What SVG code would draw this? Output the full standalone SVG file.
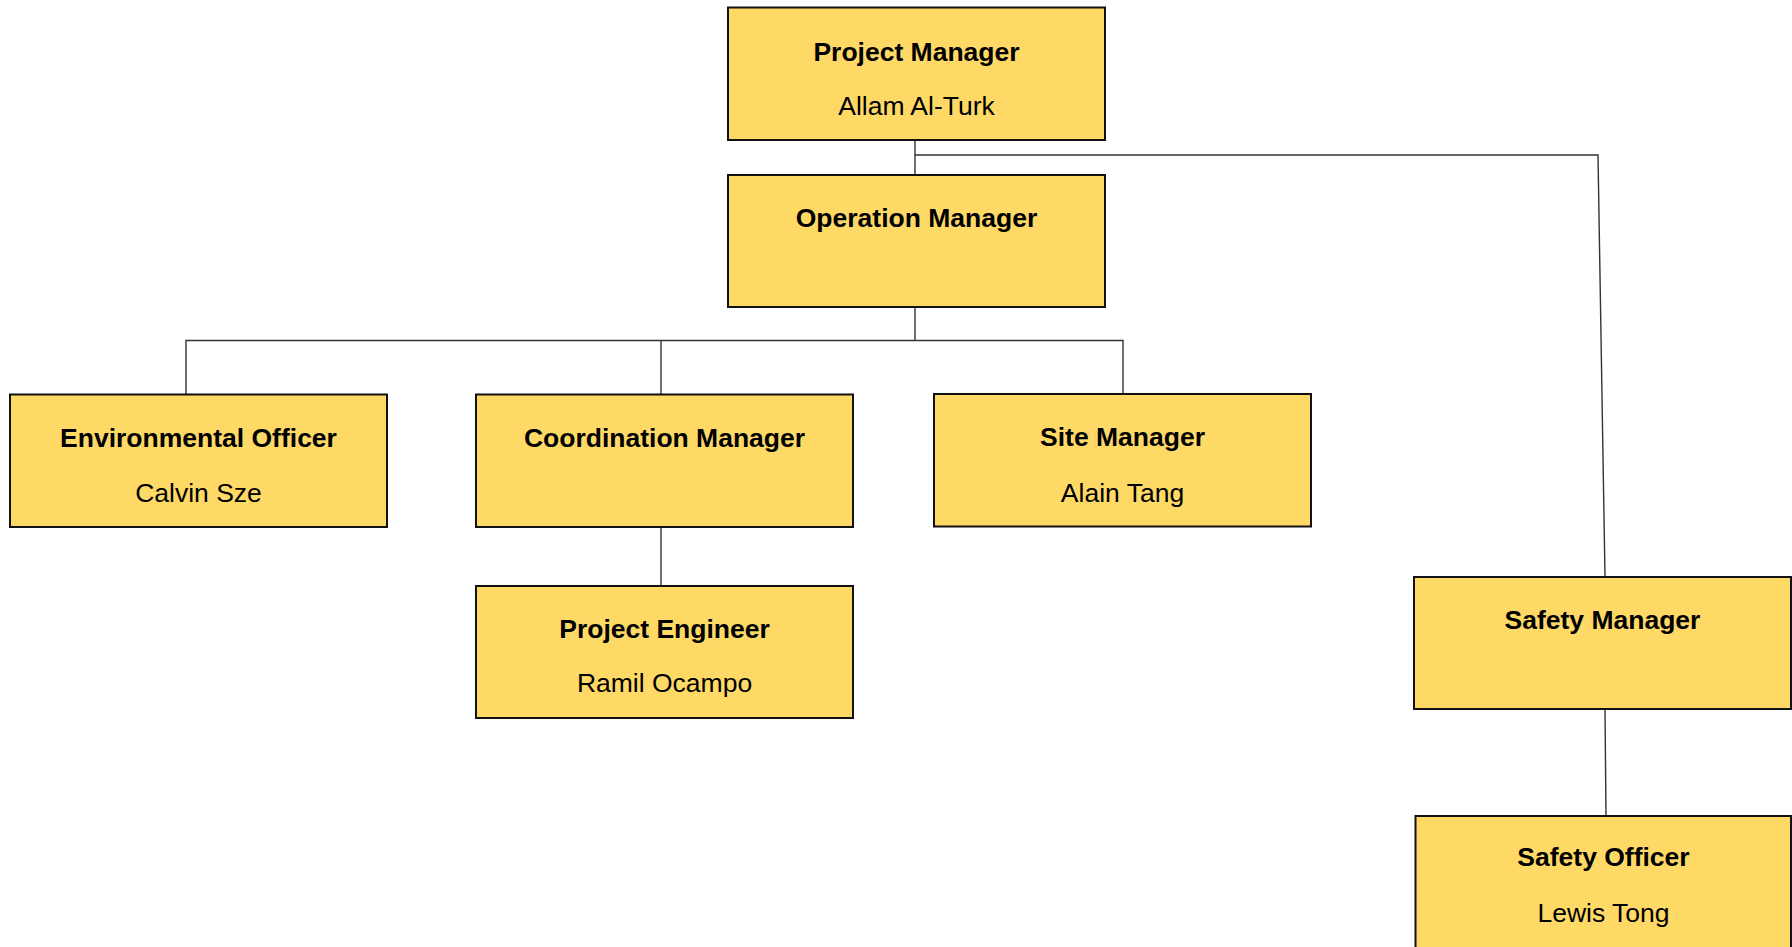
<svg xmlns="http://www.w3.org/2000/svg" width="1792" height="947" viewBox="0 0 1792 947">
<style>
.box{fill:#FFD966;stroke:#111;stroke-width:2}
.t{font-family:"Liberation Sans",Arial,sans-serif;font-size:26.5px;font-weight:bold;fill:#000;text-anchor:middle}
.n{font-family:"Liberation Sans",Arial,sans-serif;font-size:26.5px;fill:#000;text-anchor:middle}
.c{fill:none;stroke:#333;stroke-width:1.4}
</style>
<rect width="1792" height="947" fill="#fff"/>
<g id="connectors">
<polyline class="c" points="915,140 915,175"/>
<polyline class="c" points="915,155 1598,155 1605,577"/>
<polyline class="c" points="915,307 915,340.5"/>
<polyline class="c" points="186,394 186,340.5 1123,340.5 1123,394"/>
<polyline class="c" points="661,340.5 661,394"/>
<polyline class="c" points="661,527 661,586"/>
<polyline class="c" points="1605,709 1606,816"/>
</g>
<g id="project-manager">
<rect class="box" x="728" y="7.5" width="377" height="132.5"/>
<text class="t" x="916.5" y="61">Project Manager</text>
<text class="n" x="916.5" y="115">Allam Al-Turk</text>
</g>
<g id="operation-manager">
<rect class="box" x="728" y="175" width="377" height="132"/>
<text class="t" x="916.5" y="227">Operation Manager</text>
</g>
<g id="environmental-officer">
<rect class="box" x="10" y="394.5" width="377" height="132.5"/>
<text class="t" x="198.5" y="447">Environmental Officer</text>
<text class="n" x="198.5" y="502">Calvin Sze</text>
</g>
<g id="coordination-manager">
<rect class="box" x="476" y="394.5" width="377" height="132.5"/>
<text class="t" x="664.5" y="447">Coordination Manager</text>
</g>
<g id="site-manager">
<rect class="box" x="934" y="394" width="377" height="132.5"/>
<text class="t" x="1122.5" y="446">Site Manager</text>
<text class="n" x="1122.5" y="501.5">Alain Tang</text>
</g>
<g id="project-engineer">
<rect class="box" x="476" y="586" width="377" height="132"/>
<text class="t" x="664.5" y="637.5">Project Engineer</text>
<text class="n" x="664.5" y="691.5">Ramil Ocampo</text>
</g>
<g id="safety-manager">
<rect class="box" x="1414" y="577" width="377" height="132"/>
<text class="t" x="1602.5" y="629">Safety Manager</text>
</g>
<g id="safety-officer">
<rect class="box" x="1415.5" y="816" width="375.5" height="133"/>
<text class="t" x="1603.5" y="866">Safety Officer</text>
<text class="n" x="1603.5" y="921.5">Lewis Tong</text>
</g>
</svg>
